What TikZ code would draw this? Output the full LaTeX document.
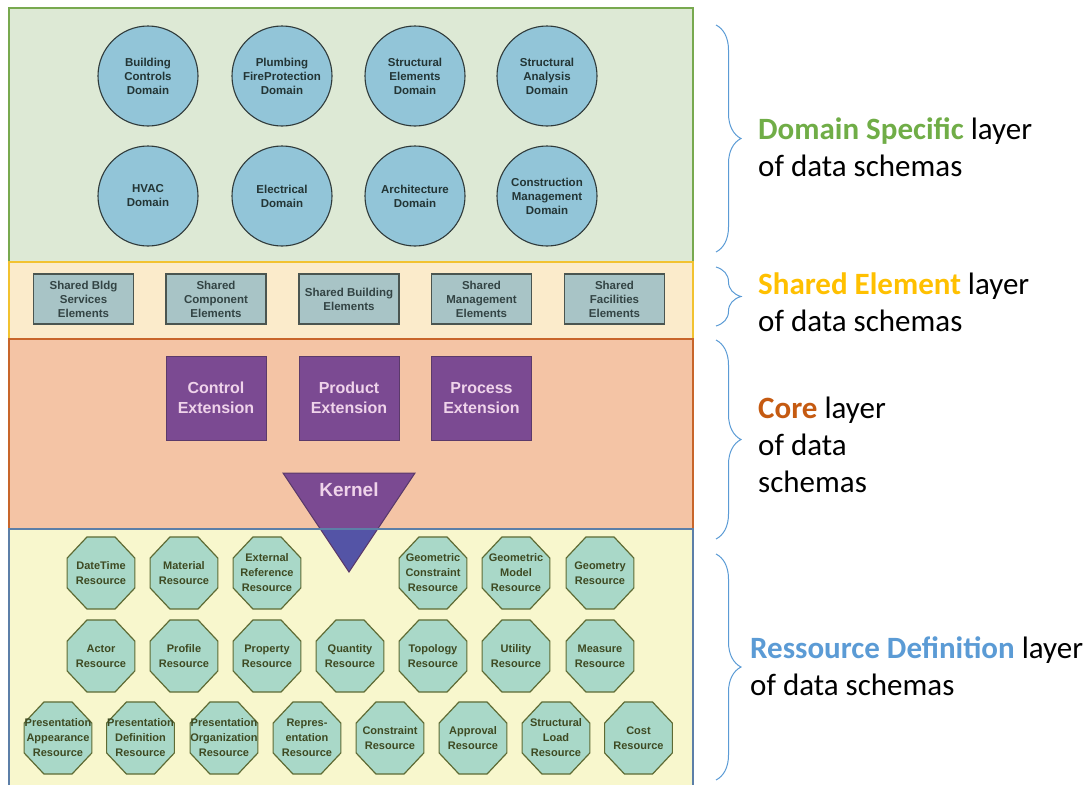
\documentclass[tikz,border=0pt]{standalone}
\usepackage{fontspec}
\setmainfont{Liberation Sans}
\newfontfamily\calfont{Carlito}
\usetikzlibrary{shapes.geometric,decorations.pathreplacing}
\definecolor{greenfill}{HTML}{DDE9D5}
\definecolor{greenline}{HTML}{78A94F}
\definecolor{shfill}{HTML}{FBEBCB}
\definecolor{shline}{HTML}{F2C230}
\definecolor{corefill}{HTML}{F4C4A5}
\definecolor{coreline}{HTML}{C8652A}
\definecolor{resfill}{HTML}{F8F7CD}
\definecolor{resline}{HTML}{5C7FA8}
\definecolor{circfill}{HTML}{92C5D8}
\definecolor{circline}{HTML}{2F3A3A}
\definecolor{circtext}{HTML}{233535}
\definecolor{sbfill}{HTML}{A8C4C6}
\definecolor{sbline}{HTML}{4A5550}
\definecolor{sbtext}{HTML}{334444}
\definecolor{extfill}{HTML}{7B4A92}
\definecolor{extline}{HTML}{5B3A6A}
\definecolor{exttext}{HTML}{EFD3EA}
\definecolor{kernlow}{HTML}{5454A6}
\definecolor{octfill}{HTML}{A9D8C8}
\definecolor{octline}{HTML}{5E6B34}
\definecolor{octtext}{HTML}{3E4A22}
\definecolor{bracecol}{HTML}{5B9BD5}
\definecolor{lgreen}{HTML}{70AD47}
\definecolor{lgold}{HTML}{FFC000}
\definecolor{lorange}{HTML}{C55A11}
\definecolor{lblue}{HTML}{5B9BD5}
\begin{document}
\begin{tikzpicture}[x=1pt,y=-1pt,
  domcirc/.style={circle, draw=circline, line width=1.1pt, fill=circfill, minimum size=100pt, inner sep=0pt, align=center, text=circtext, font=\fontsize{11.5}{14}\selectfont\bfseries},
  sharedbox/.style={rectangle, draw=sbline, line width=1.3pt, fill=sbfill, minimum width=100pt, minimum height=50pt, inner sep=0pt, align=center, text=sbtext, font=\fontsize{11.5}{14}\selectfont\bfseries},
  extbox/.style={rectangle, draw=extline, line width=1pt, fill=extfill, minimum width=100pt, minimum height=84pt, inner sep=0pt, align=center, text=exttext, font=\fontsize{16}{20}\selectfont\bfseries},
  octa/.style={regular polygon, regular polygon sides=8, minimum size=78pt, inner sep=0pt, xscale=0.94, transform shape, draw=octline, line width=1.2pt, fill=octfill},
  octlbl/.style={align=center, text=octtext, inner sep=0pt, font=\fontsize{11}{15}\selectfont\bfseries},
  layerlbl/.style={anchor=base west, align=left, inner sep=0pt, font=\calfont\fontsize{31}{37}\selectfont},
  bracedec/.style={draw=bracecol, line width=1pt, decorate, decoration={brace, amplitude=25pt}}
]
\useasboundingbox (0,0) rectangle (1092,785);
% layers
\fill[greenfill] (9,8) rectangle (693,262);
\draw[greenline, line width=2pt] (9,8) rectangle (693,262);
\fill[shfill] (9,262) rectangle (693,339);
\draw[shline, line width=2pt] (9,262) rectangle (693,339);
\fill[corefill] (9,339) rectangle (693,529);
\draw[coreline, line width=2pt] (9,339) rectangle (693,529);
\fill[resfill] (9,529) rectangle (693,785);
\draw[resline, line width=2pt] (9,785) -- (9,529) -- (693,529) -- (693,785);
% domain circles
\node[domcirc] (bc) at (148,76) {Building\\Controls\\Domain};
\node[domcirc] (pf) at (282,76) {Plumbing\\FireProtection\\Domain};
\node[domcirc] (se) at (415,76) {Structural\\Elements\\Domain};
\node[domcirc] (sa) at (547,76) {Structural\\Analysis\\Domain};
\node[domcirc] (hv) at (148,196) {HVAC\\Domain};
\node[domcirc] (el) at (282,196) {Electrical\\Domain};
\node[domcirc] (ar) at (415,196) {Architecture\\Domain};
\node[domcirc] (cm) at (547,196) {Construction\\Management\\Domain};
% shared elements
\node[sharedbox] (sbs) at (83.5,299) {Shared Bldg\\Services\\Elements};
\node[sharedbox] (scp) at (216,299) {Shared\\Component\\Elements};
\node[sharedbox] (sbe) at (349,299) {Shared Building\\Elements};
\node[sharedbox] (smg) at (481.5,299) {Shared\\Management\\Elements};
\node[sharedbox] (sfc) at (614.5,299) {Shared\\Facilities\\Elements};
% core extensions
\node[extbox] (ce) at (216,398) {Control\\Extension};
\node[extbox] (pe) at (349,398) {Product\\Extension};
\node[extbox] (pre) at (481.5,398) {Process\\Extension};
% kernel
\fill[kernlow] (283,473) -- (415,473) -- (349,572) -- cycle;
\begin{scope}
\clip (9,339) rectangle (693,529);
\fill[extfill] (283,473) -- (415,473) -- (349,572) -- cycle;
\end{scope}
\draw[extline, line width=1pt] (283,473) -- (415,473) -- (349,572) -- cycle;
\draw[resline, line width=2pt] (283,529) -- (415,529);
\node[text=exttext, font=\fontsize{19}{22}\selectfont\bfseries, inner sep=0pt] (kern) at (349,490) {Kernel};
% resources row 1
\node[octa, label={[octlbl]center:{DateTime\\Resource}}] (dtr) at (101,573) {};
\node[octa, label={[octlbl]center:{Material\\Resource}}] (mat) at (184,573) {};
\node[octa, label={[octlbl]center:{External\\Reference\\Resource}}] (ext) at (267,573) {};
\node[octa, label={[octlbl]center:{Geometric\\Constraint\\Resource}}] (gcr) at (433,573) {};
\node[octa, label={[octlbl]center:{Geometric\\Model\\Resource}}] (gmr) at (516,573) {};
\node[octa, label={[octlbl]center:{Geometry\\Resource}}] (geo) at (600,573) {};
% row 2
\node[octa, label={[octlbl]center:{Actor\\Resource}}] (act) at (101,656) {};
\node[octa, label={[octlbl]center:{Profile\\Resource}}] (pro) at (184,656) {};
\node[octa, label={[octlbl]center:{Property\\Resource}}] (prp) at (267,656) {};
\node[octa, label={[octlbl]center:{Quantity\\Resource}}] (qty) at (350,656) {};
\node[octa, label={[octlbl]center:{Topology\\Resource}}] (tpl) at (433,656) {};
\node[octa, label={[octlbl]center:{Utility\\Resource}}] (utl) at (516,656) {};
\node[octa, label={[octlbl]center:{Measure\\Resource}}] (msr) at (600,656) {};
% row 3
\node[octa, label={[octlbl]center:{Presentation\\Appearance\\Resource}}] (pap) at (58,738) {};
\node[octa, label={[octlbl]center:{Presentation\\Definition\\Resource}}] (pdf) at (140.5,738) {};
\node[octa, label={[octlbl]center:{Presentation\\Organization\\Resource}}] (por) at (224,738) {};
\node[octa, label={[octlbl]center:{Repres-\\entation\\Resource}}] (rep) at (307,738) {};
\node[octa, label={[octlbl]center:{Constraint\\Resource}}] (con) at (390,738) {};
\node[octa, label={[octlbl]center:{Approval\\Resource}}] (app) at (473,738) {};
\node[octa, label={[octlbl]center:{Structural\\Load\\Resource}}] (slr) at (556,738) {};
\node[octa, label={[octlbl]center:{Cost\\Resource}}] (cst) at (638.5,738) {};
% braces
\coordinate (b1a) at (716,25);  \coordinate (b1b) at (716,252);
\coordinate (b2a) at (716,267); \coordinate (b2b) at (716,326);
\coordinate (b3a) at (716,340); \coordinate (b3b) at (716,539);
\coordinate (b4a) at (716,554); \coordinate (b4b) at (716,780);
\draw[bracedec] (b1a) -- (b1b);
\draw[bracedec] (b2a) -- (b2b);
\draw[bracedec] (b3a) -- (b3b);
\draw[bracedec] (b4a) -- (b4b);
% labels (anchor at baseline of last line)
\node[layerlbl] (l1) at (758,176) {\textcolor{lgreen}{\bfseries Domain Specific} layer\\of data schemas};
\node[layerlbl] (l2) at (758,331) {\textcolor{lgold}{\bfseries Shared Element} layer\\of data schemas};
\node[layerlbl] (l3) at (758,492) {\textcolor{lorange}{\bfseries Core} layer\\of data\\schemas};
\node[layerlbl] (l4) at (750,695) {\textcolor{lblue}{\bfseries Ressource Definition} layer\\of data schemas};
\end{tikzpicture}
\end{document}
